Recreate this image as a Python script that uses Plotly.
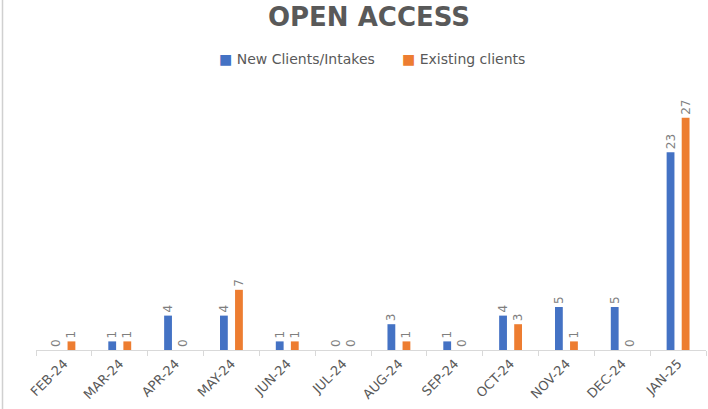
import plotly.graph_objects as go

months = ["FEB-24", "MAR-24", "APR-24", "MAY-24", "JUN-24", "JUL-24",
          "AUG-24", "SEP-24", "OCT-24", "NOV-24", "DEC-24", "JAN-25"]
new_clients = [0, 1, 4, 4, 1, 0, 3, 1, 4, 5, 5, 23]
existing_clients = [1, 1, 0, 7, 1, 0, 1, 0, 3, 1, 0, 27]
series_names = ["New Clients/Intakes", "Existing clients"]

BLUE = "#4472C4"
ORANGE = "#ED7D31"
GRAY = "#595959"
LABEL_GRAY = "#7f7f7f"
FONT = "DejaVu Sans"

fig = go.Figure()
for vals, name, color, off in [(new_clients, series_names[0], BLUE, -0.205),
                               (existing_clients, series_names[1], ORANGE, 0.065)]:
    fig.add_trace(go.Bar(
        x=months, y=vals, name=name,
        marker=dict(color=color, line=dict(width=0)),
        width=0.14, offset=off,
        text=[str(v) for v in vals], textposition="outside",
        textangle=-90, cliponaxis=False, constraintext="none",
        textfont=dict(color=LABEL_GRAY, size=12, family=FONT),
        showlegend=False,
    ))

fig.update_layout(
    width=708, height=409,
    margin=dict(l=36, r=2, t=80, b=59, autoexpand=False),
    paper_bgcolor="white", plot_bgcolor="white",
    barmode="group",
    font=dict(family=FONT, color=GRAY),
    title=dict(text="<b>OPEN ACCESS</b>", xref="paper", x=0.497, xanchor="center",
               y=0.958, yanchor="middle",
               font=dict(size=26, color=GRAY, family=FONT)),
    xaxis=dict(type="category", showgrid=False, showline=True,
               linecolor="#d9d9d9", linewidth=1,
               ticks="outside", tickson="boundaries", tickcolor="#d9d9d9",
               ticklen=5, tickangle=-45,
               tickfont=dict(size=13, color=GRAY, family=FONT)),
    yaxis=dict(range=[0, 31.4], visible=False, showgrid=False),
)

# legend drawn as text: coloured square + series name
fig.add_annotation(xref="paper", yref="paper", x=0.270, y=1.076,
                   xanchor="left", yanchor="middle", showarrow=False,
                   text=f"<span style='color:{BLUE}'>■</span> {series_names[0]}",
                   font=dict(size=14, color=GRAY, family=FONT))
fig.add_annotation(xref="paper", yref="paper", x=0.544, y=1.076,
                   xanchor="left", yanchor="middle", showarrow=False,
                   text=f"<span style='color:{ORANGE}'>■</span> {series_names[1]}",
                   font=dict(size=14, color=GRAY, family=FONT))

fig.add_shape(type="line", xref="paper", yref="paper",
              x0=-0.05, x1=-0.05, y0=-0.25, y1=1.3,
              line=dict(color="#d0d0d0", width=1.5))

fig.write_html("out.html", config={"displayModeBar": False},
               post_script="document.body.style.margin='0';document.body.style.overflow='hidden';")
